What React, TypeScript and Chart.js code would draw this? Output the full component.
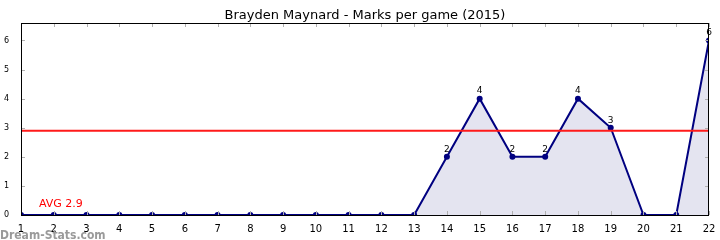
import React, { useEffect, useRef } from "react";
import { Chart, registerables } from "chart.js";

Chart.register(...registerables);

const TITLE = "Brayden Maynard - Marks per game (2015)";
const rounds = [1, 2, 3, 4, 5, 6, 7, 8, 9, 10, 11, 12, 13, 14, 15, 16, 17, 18, 19, 20, 21, 22];
const marks = [0, 0, 0, 0, 0, 0, 0, 0, 0, 0, 0, 0, 0, 2, 4, 2, 2, 4, 3, 0, 0, 6];
const AVG = 2.9;
const AVG_LABEL = "AVG 2.9";
const WATERMARK = "Dream-Stats.com";
const Y_MAX = 6.6;

const FONT = "'DejaVu Sans', sans-serif";

export default function App() {
  const ref = useRef<HTMLCanvasElement | null>(null);
  useEffect(() => {
    if (!ref.current) return;
    const overlay = {
      id: "overlay",
      afterDatasetsDraw(chart: any) {
        const { ctx, chartArea: a, scales } = chart;
        const xs = scales.x, ys = scales.y;
        ctx.save();
        // inner ticks
        ctx.strokeStyle = "#b0b0b0";
        ctx.lineWidth = 1;
        ctx.beginPath();
        for (let v = 0; v <= 6; v++) {
          const y = Math.round(ys.getPixelForValue(v)) + 0.5;
          ctx.moveTo(a.left, y); ctx.lineTo(a.left + 4, y);
          ctx.moveTo(a.right, y); ctx.lineTo(a.right - 4, y);
        }
        for (const r of rounds) {
          const x = Math.round(xs.getPixelForValue(r)) + 0.5;
          ctx.moveTo(x, a.top); ctx.lineTo(x, a.top + 4);
          ctx.moveTo(x, a.bottom); ctx.lineTo(x, a.bottom - 4);
        }
        ctx.stroke();
        // border
        ctx.strokeStyle = "#000";
        ctx.strokeRect(Math.round(a.left) + 0.5, Math.round(a.top) + 0.5, Math.round(a.right - a.left) - 1, Math.round(a.bottom - a.top));
        // data labels
        ctx.fillStyle = "#000";
        ctx.font = `9px ${FONT}`;
        ctx.textAlign = "center";
        ctx.textBaseline = "bottom";
        rounds.forEach((r, i) => {
          if (marks[i] > 0) {
            ctx.fillText(String(marks[i]), xs.getPixelForValue(r), ys.getPixelForValue(marks[i]) - 3);
          }
        });
        // avg label
        ctx.fillStyle = "#ff0000";
        ctx.font = `11px ${FONT}`;
        ctx.textAlign = "left";
        ctx.textBaseline = "alphabetic";
        ctx.fillText(AVG_LABEL, 39, 207);
        // title
        ctx.fillStyle = "#000";
        ctx.font = `13px ${FONT}`;
        ctx.textAlign = "center";
        ctx.fillText(TITLE, (a.left + a.right) / 2, 19);
        // watermark
        ctx.fillStyle = "#9a9a9a";
        ctx.font = `bold 12px 'DejaVu Sans Condensed', ${FONT}`;
        ctx.textAlign = "left";
        ctx.fillText(WATERMARK, 0, 239);
        ctx.restore();
      },
    };
    const chart = new Chart(ref.current, {
      type: "line",
      data: {
        datasets: [
          {
            data: [{ x: 1, y: AVG }, { x: 22, y: AVG }],
            borderColor: "#ff1a1a",
            borderWidth: 2,
            pointRadius: 0,
            fill: false,
            order: 0,
          },
          {
            data: rounds.map((r, i) => ({ x: r, y: marks[i] })),
            borderColor: "#000080",
            borderWidth: 2,
            backgroundColor: "#e4e4f0",
            pointBackgroundColor: "#000080",
            pointBorderColor: "#000080",
            pointBorderWidth: 0,
            pointRadius: 3,
            fill: "origin",
            order: 1,
          },
        ],
      },
      options: {
        animation: false,
        responsive: false,
        layout: { padding: { top: 23, right: 11, left: 0, bottom: 0 } },
        plugins: { legend: { display: false }, title: { display: false }, tooltip: { enabled: false } },
        scales: {
          x: {
            type: "linear",
            min: 1,
            max: 22,
            grid: { display: false },
            border: { display: false },
            ticks: { stepSize: 1, color: "#000", font: { family: FONT, size: 10 }, padding: 0, maxRotation: 0, autoSkip: false },
            afterFit: (s: any) => { s.height = 25; },
          },
          y: {
            min: 0,
            max: Y_MAX,
            grid: { display: false },
            border: { display: false },
            ticks: {
              stepSize: 1,
              color: "#000",
              font: { family: FONT, size: 8 },
              padding: 4,
              callback: (v: any) => (Number.isInteger(v) ? String(v) : ""),
            },
            afterFit: (s: any) => { s.width = 21; },
          },
        },
      },
      plugins: [overlay],
    });
    return () => chart.destroy();
  }, []);
  return (
    <div style={{ position: "fixed", left: 0, top: 0, width: 720, height: 240, background: "#fff" }}>
      <canvas ref={ref} width={720} height={240} style={{ display: "block" }} />
    </div>
  );
}
